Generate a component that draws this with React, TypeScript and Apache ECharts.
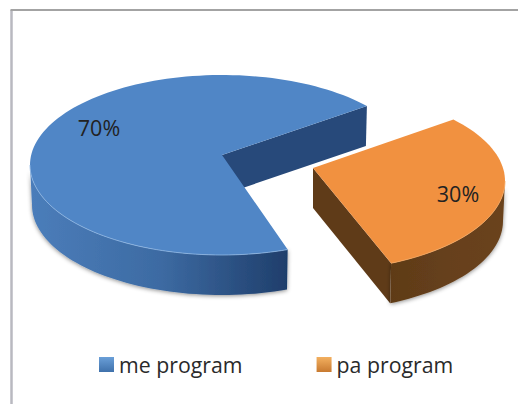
import React, { useEffect, useRef } from "react";
import * as echarts from "echarts";

const categories = ["me program", "pa program"];
const shares = [70, 30];
const startAngle = 40; // degrees, counter-clockwise, on the pie's ellipse
const angleTrim = [
  [1, -2],
  [2, 3],
];

const topColors = ["#5086c6", "#f19140"];
const cutColors = ["#27497a", "#5f3b18"];
const rimColors = ["#8fb6e4", "#f5a860"];
const sideStops = [
  ["#4b7dba", "#3d6ba3", "#1f3e6b"],
  ["#5f3b18", "#66401b", "#6a431d"],
];
const centers = [
  [222, 165],
  [313, 181],
];
const apexLift = [10, 13];
const labelAt = [
  [99, 127],
  [458, 193],
];
const RX = 192;
const RY = 90;
const DEPTH = 40;

const total = shares.reduce((a, b) => a + b, 0);

function slice(index: number) {
  let a0 = startAngle;
  for (let i = 0; i < index; i++) a0 += (shares[i] / total) * 360;
  const a1 = a0 + (shares[index] / total) * 360;
  return [a0 + angleTrim[index][0], a1 + angleTrim[index][1]];
}

function arcPoints(cx: number, cy: number, a0: number, a1: number, dy = 0, shrink = 0) {
  const pts: number[][] = [];
  const n = Math.ceil(Math.abs(a1 - a0) / 2);
  for (let i = 0; i <= n; i++) {
    const a = ((a0 + ((a1 - a0) * i) / n) * Math.PI) / 180;
    pts.push([cx + (RX - shrink) * Math.cos(a), cy - RY * Math.sin(a) + dy]);
  }
  return pts;
}

function makeRenderItem(index: number) {
  return () => {
    const [a0, a1] = slice(index);
    const [cx, cy] = centers[index];
    const apex = [cx, cy - apexLift[index]];
    const top = arcPoints(cx, cy, a0, a1);
    const first = top[0];
    const children: any[] = [];

    // cut face that looks towards the viewer
    children.push({
      type: "polygon",
      shape: {
        points: [
          apex,
          first,
          [first[0] - 1, first[1] + DEPTH],
          [apex[0], apex[1] + DEPTH],
        ],
      },
      style: { fill: cutColors[index] },
    });

    // outer wall: front part of the rim only
    const wA0 = Math.max(a0, 180);
    const wA1 = Math.min(a1, 360);
    const upper = arcPoints(cx, cy, wA0, wA1);
    const lower = arcPoints(cx, cy, wA0, wA1, DEPTH, 2).reverse();
    children.push({
      type: "polygon",
      shape: { points: upper.concat(lower) },
      style: {
        fill: new echarts.graphic.LinearGradient(0, 0, 1, 0, [
          { offset: 0, color: sideStops[index][0] },
          { offset: 0.5, color: sideStops[index][1] },
          { offset: 1, color: sideStops[index][2] },
        ]),
        shadowBlur: 4,
        shadowColor: "rgba(0,0,0,0.45)",
        shadowOffsetY: 1,
      },
    });

    // top surface
    children.push({
      type: "polygon",
      shape: { points: [apex].concat(top) },
      style: { fill: topColors[index] },
    });

    // light rim along the front edge
    children.push({
      type: "polyline",
      shape: { points: upper },
      style: { stroke: rimColors[index], fill: "none", lineWidth: 1, opacity: 0.8 },
    });

    children.push({
      type: "text",
      style: {
        x: labelAt[index][0],
        y: labelAt[index][1],
        text: shares[index] + "%",
        fill: "#222222",
        font: "21.5px 'Open Sans'",
        textAlign: "center",
        textVerticalAlign: "middle",
      },
    });
    return { type: "group", children };
  };
}

export default function App() {
  const ref = useRef<HTMLDivElement>(null);
  useEffect(() => {
    const chart = echarts.init(ref.current!, undefined, { renderer: "svg" });
    chart.setOption({
      animation: false,
      backgroundColor: "#ffffff",
      legend: {
        left: 94,
        top: 349,
        itemWidth: 15,
        itemHeight: 15,
        itemGap: 74,
        textStyle: { fontFamily: "'Open Sans'", fontSize: 21.3, color: "#2a2a2a" },
        data: categories.map((name, i) => ({
          name,
          icon: "rect",
          itemStyle: {
            color: new echarts.graphic.LinearGradient(0, 0, 0, 1, [
              { offset: 0, color: i === 0 ? "#6a9fd8" : "#f3b060" },
              { offset: 1, color: i === 0 ? "#3f71ab" : "#c87a30" },
            ]),
          },
        })),
      },
      graphic: [
        {
          type: "line",
          silent: true,
          shape: { x1: 11.5, y1: 10, x2: 11.5, y2: 404 },
          style: { stroke: "#b9b9c0", lineWidth: 2.5 },
        },
        {
          type: "line",
          silent: true,
          shape: { x1: 10.5, y1: 10, x2: 518, y2: 10 },
          style: { stroke: "#a3a3a3", lineWidth: 2 },
        },
      ],
      series: categories.map((name, i) => ({
        type: "custom",
        name,
        coordinateSystem: "none",
        data: [shares[i]],
        itemStyle: { color: topColors[i] },
        renderItem: makeRenderItem(i),
      })),
    });
    return () => chart.dispose();
  }, []);
  return (
    <div
      ref={ref}
      style={{ position: "fixed", left: 0, top: 0, width: 518, height: 404 }}
    />
  );
}
